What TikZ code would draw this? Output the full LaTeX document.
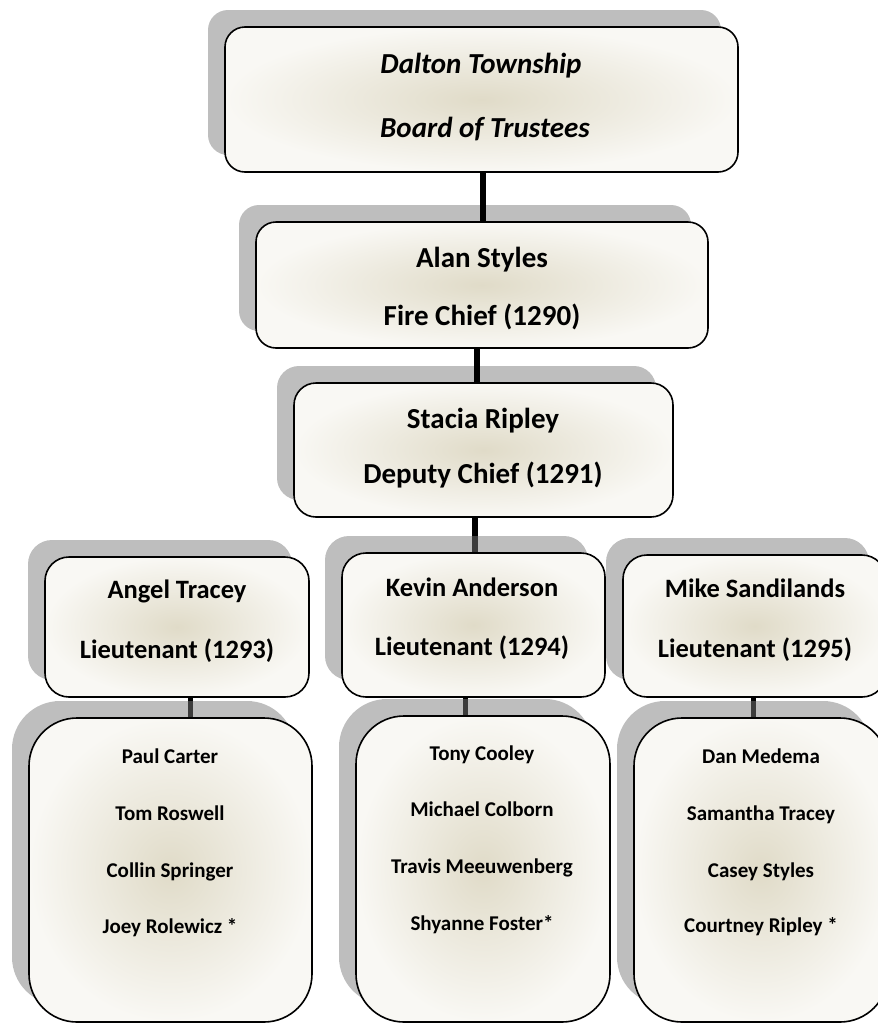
\documentclass[tikz,border=0pt]{standalone}
\usepackage{fontspec}
\setmainfont{Carlito}
\usetikzlibrary{shadows,backgrounds}
\definecolor{shadowgray}{RGB}{123,123,123}
\definecolor{boxin}{RGB}{224,219,200}
\definecolor{boxout}{RGB}{249,248,244}
\begin{document}
\begin{tikzpicture}[x=1pt,y=-1pt,
  box/.style={draw=black, line width=1.6pt, rounded corners=#1, inner sep=0pt,
    inner color=boxin, outer color=boxout,
    general shadow={fill=shadowgray, opacity=0.49, shadow xshift=-17pt, shadow yshift=17pt}},
  box/.default=20pt,
  conn/.style={line width=6pt, black},
  connlow/.style={line width=5pt, black},
  bigtxt/.style={anchor=base, inner sep=0pt, font=\fontsize{29}{34}\selectfont\bfseries},
  toptxt/.style={anchor=base, inner sep=0pt, font=\fontsize{29}{34}\selectfont\bfseries\itshape},
  ltxt/.style={anchor=base, inner sep=0pt, font=\fontsize{26.5}{32}\selectfont\bfseries},
  mtxt/.style={anchor=base, inner sep=0pt, font=\fontsize{21}{25}\selectfont\bfseries}]
\useasboundingbox (0,0) rectangle (878,1023);

% boxes
\node[box=20pt, minimum width=513pt, minimum height=145pt] (board) at (481.5,99.5) {};
\node[box=20pt, minimum width=452pt, minimum height=126pt] (alan) at (482,285) {};
\node[box=22pt, minimum width=379pt, minimum height=134pt] (stacia) at (483.5,450) {};
\node[box=24pt, minimum width=264pt, minimum height=140pt] (angel) at (177,627) {};
\node[box=24pt, minimum width=263pt, minimum height=144pt] (kevin) at (473.5,625) {};
\node[box=24pt, minimum width=263pt, minimum height=142pt] (mike) at (754.5,626) {};
\node[box=48pt, minimum width=283pt, minimum height=304pt] (angelm) at (170.5,870) {};
\node[box=48pt, minimum width=254pt, minimum height=306pt] (kevinm) at (483,869) {};
\node[box=48pt, minimum width=254pt, minimum height=304pt] (mikem) at (761,870) {};

% connectors
\coordinate (c1) at (483,0);
\coordinate (c2) at (477,0);
\coordinate (c3) at (475,0);
\coordinate (c4) at (190,0);
\coordinate (c5) at (465,0);
\coordinate (c6) at (753,0);
\draw[conn] (board.south -| c1) -- (alan.north -| c1);
\draw[conn] (alan.south -| c2) -- (stacia.north -| c2);
\begin{scope}[on background layer]
\draw[conn] (stacia.south -| c3) -- (kevin.north -| c3);
\draw[connlow] (angel.south -| c4) -- (angelm.north -| c4);
\draw[connlow] (kevin.south -| c5) -- (kevinm.north -| c5);
\draw[connlow] (mike.south -| c6) -- (mikem.north -| c6);
\end{scope}

% texts
\node[toptxt] (t1a) at (481,73) {Dalton Township};
\node[toptxt] (t1b) at (485,137) {Board of Trustees};
\node[bigtxt] (t2a) at (482,267) {Alan Styles};
\node[bigtxt] (t2b) at (482,325) {Fire Chief (1290)};
\node[bigtxt] (t3a) at (483,428) {Stacia Ripley};
\node[bigtxt] (t3b) at (483,483) {Deputy Chief (1291)};
\node[ltxt] (t4a) at (177,598) {Angel Tracey};
\node[ltxt] (t4b) at (177,658) {Lieutenant (1293)};
\node[ltxt] (t5a) at (472,596) {Kevin Anderson};
\node[ltxt] (t5b) at (472,655) {Lieutenant (1294)};
\node[ltxt] (t6a) at (755,597) {Mike Sandilands};
\node[ltxt] (t6b) at (755,657) {Lieutenant (1295)};

\node[mtxt] (a1) at (170,763) {Paul Carter};
\node[mtxt] (a2) at (170,820) {Tom Roswell};
\node[mtxt] (a3) at (170,877) {Collin Springer};
\node[mtxt] (a4) at (170,933) {Joey Rolewicz *};
\node[mtxt] (k1) at (482,760) {Tony Cooley};
\node[mtxt] (k2) at (482,816) {Michael Colborn};
\node[mtxt] (k3) at (482,873) {Travis Meeuwenberg};
\node[mtxt] (k4) at (482,930) {Shyanne Foster*};
\node[mtxt] (m1) at (761,763) {Dan Medema};
\node[mtxt] (m2) at (761,820) {Samantha Tracey};
\node[mtxt] (m3) at (761,877) {Casey Styles};
\node[mtxt] (m4) at (761,932) {Courtney Ripley *};
\end{tikzpicture}
\end{document}
